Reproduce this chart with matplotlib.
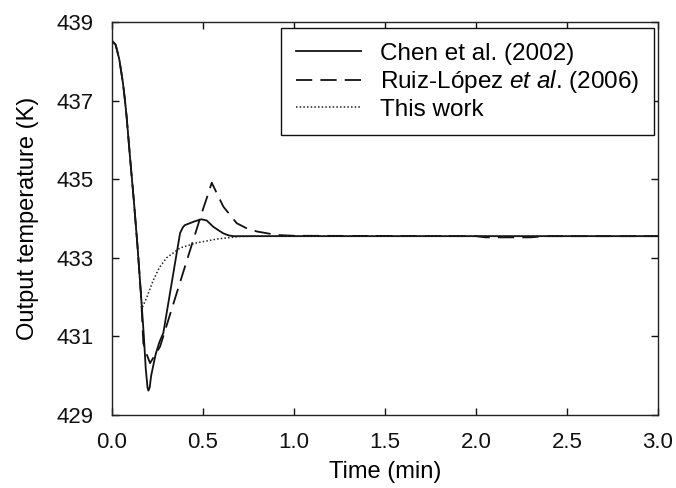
import matplotlib
matplotlib.use("Agg")
import matplotlib.pyplot as plt

plt.rcParams['font.family'] = ['Liberation Sans', 'DejaVu Sans']
plt.rcParams['mathtext.fontset'] = 'custom'
plt.rcParams['mathtext.rm'] = 'Liberation Sans'
plt.rcParams['mathtext.it'] = 'Liberation Sans:italic'

# Chen et al. (2002)
chen_t = [0.0, 0.02, 0.04, 0.06, 0.07, 0.08, 0.10, 0.12, 0.14, 0.16, 0.175, 0.185,
          0.195, 0.2, 0.207, 0.215, 0.24, 0.26, 0.282, 0.32, 0.35, 0.374, 0.39, 0.40,
          0.45, 0.49, 0.52, 0.556, 0.585, 0.612, 0.64, 0.667, 1.0, 2.0, 3.0]
chen_T = [438.52, 438.42, 438.05, 437.45, 437.05, 436.6, 435.5, 434.45, 433.3, 432.0, 431.0, 430.2,
          429.7, 429.62, 429.7, 430.0, 430.55, 430.85, 431.09, 432.14, 432.97, 433.63, 433.78, 433.83,
          433.92, 433.98, 433.95, 433.79, 433.7, 433.62, 433.57, 433.55, 433.55, 433.55, 433.55]

# Ruiz-López et al. (2006)
ruiz_t = [0.0, 0.02, 0.04, 0.06, 0.07, 0.08, 0.10, 0.12, 0.14, 0.16, 0.172, 0.19, 0.209,
          0.264, 0.35, 0.42, 0.493, 0.53, 0.548, 0.58, 0.612, 0.685, 0.74, 0.795, 0.905,
          1.0, 2.0, 2.05, 2.3, 2.38, 3.0]
ruiz_T = [438.52, 438.42, 438.05, 437.45, 437.05, 436.6, 435.5, 434.45, 433.3, 432.0, 430.83, 430.55, 430.32,
          430.74, 432.02, 433.06, 434.14, 434.65, 434.91, 434.6, 434.30, 433.88, 433.75, 433.67, 433.58,
          433.56, 433.55, 433.52, 433.52, 433.55, 433.55]

# This work
this_t = [0.0, 0.02, 0.04, 0.06, 0.07, 0.08, 0.10, 0.12, 0.14, 0.155, 0.165, 0.19,
          0.227, 0.26, 0.30, 0.374, 0.465, 0.58, 0.70, 0.80, 1.0, 2.0, 3.0]
this_T = [438.52, 438.42, 438.05, 437.45, 437.05, 436.6, 435.5, 434.45, 433.3, 432.3, 431.72, 431.98,
          432.43, 432.75, 433.0, 433.25, 433.38, 433.48, 433.54, 433.55, 433.55, 433.55, 433.55]

labels = ["Chen et al. (2002)", "Ruiz-López $\\it{et\\ al}$. (2006)", "This work"]
x_ticks = [0.0, 0.5, 1.0, 1.5, 2.0, 2.5, 3.0]
y_ticks = [429, 431, 433, 435, 437, 439]

FS = 16
FS_LAB = 17
FS_LEG = 17.5

fig = plt.figure(figsize=(6.76, 4.88), dpi=100)
ax = fig.add_axes([0.1657, 0.1496, 0.8077, 0.8054])

ax.plot(chen_t, chen_T, color='#111111', lw=1.3, ls='-', label=labels[0])
ax.plot(ruiz_t, ruiz_T, color='#111111', lw=1.3, ls=(0, (9, 4.5)), label=labels[1])
ax.plot(this_t, this_T, color='#222222', lw=1.1, ls=(0, (1, 1.4)), label=labels[2])

ax.set_xlim(0, 3)
ax.set_ylim(429, 439)
ax.set_xticks(x_ticks)
ax.set_xticklabels([f"{v:.1f}" for v in x_ticks])
ax.set_yticks(y_ticks)
ax.tick_params(direction='in', length=5, width=1, top=True, right=True,
               labelsize=FS, colors='#111111')
ax.tick_params(axis='x', pad=12)
ax.tick_params(axis='y', pad=13)
for s in ax.spines.values():
    s.set_linewidth(1.0)
    s.set_color('#222222')

ax.set_xlabel("Time (min)", fontsize=FS_LAB, labelpad=6)
ax.set_ylabel("Output temperature (K)", fontsize=FS_LAB, labelpad=13)

leg = ax.legend(loc='upper right', bbox_to_anchor=(0.9927, 0.9847), borderaxespad=0,
                fontsize=FS_LEG, frameon=True, fancybox=False,
                edgecolor='#111111', framealpha=1, handlelength=2.7,
                handletextpad=0.78, labelspacing=0.15, borderpad=0.6)
leg.get_frame().set_linewidth(1.0)

fig.savefig("out.png", dpi=100)
